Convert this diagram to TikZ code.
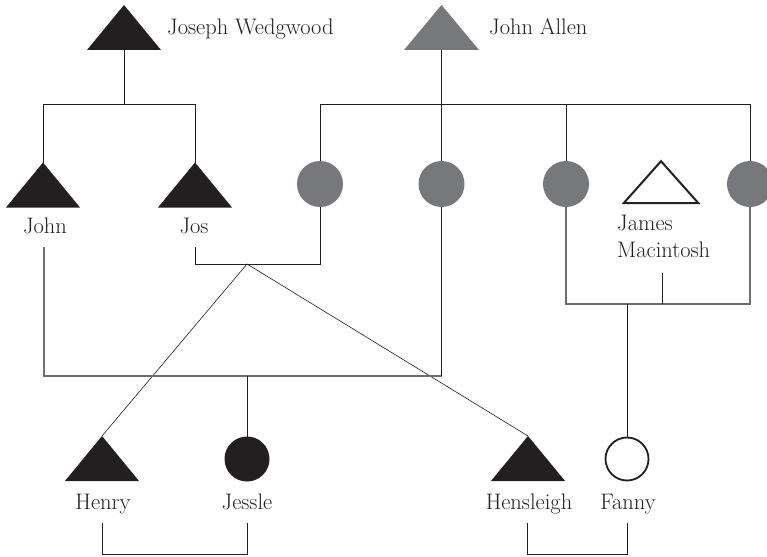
\documentclass[tikz,border=0pt]{standalone}
\begin{document}
\definecolor{ink}{HTML}{231F20}
\definecolor{mid}{HTML}{77787B}
\definecolor{lgray}{HTML}{6D6E71}
\begin{tikzpicture}[x=1pt,y=-1pt,
  tri/.style={minimum width=74pt, minimum height=45pt, inner sep=0pt, outer sep=0pt,
    path picture={\fill[#1] (path picture bounding box.south west) -- (path picture bounding box.south east) -- (path picture bounding box.north) -- cycle;}},
  opentri/.style={minimum width=78pt, minimum height=45pt, inner sep=0pt, outer sep=0pt,
    path picture={\draw[ink, line width=2pt, line join=miter]
      ([shift={(1.8pt,1pt)}]path picture bounding box.south west) --
      ([shift={(-1.8pt,1pt)}]path picture bounding box.south east) --
      ([shift={(0pt,-2.2pt)}]path picture bounding box.north) -- cycle;}},
  dot/.style={circle, minimum size=46pt, inner sep=0pt, outer sep=0pt, fill=#1},
  opendot/.style={circle, minimum size=43pt, inner sep=0pt, outer sep=0pt, draw=ink, line width=1.8pt, fill=white},
  lbl/.style={inner sep=0pt, text=ink, font=\fontsize{22.5}{27}\selectfont},
  ln/.style={draw=ink, line width=0.8pt},
  gln/.style={draw=lgray, line width=1.1pt},
  thin/.style={draw=ink, line width=0.6pt}
]
\clip (0,0) rectangle (767,556);
\fill[white] (0,0) rectangle (767,556);

% generation 1
\node[tri=ink] (jw) at (124,27.5) {};
\node[lbl, anchor=base west] (jwl) at (167,35) {Joseph Wedgwood};
\node[tri=mid, minimum width=75pt] (ja) at (441.5,27.5) {};
\node[lbl, anchor=base west] (jal) at (489,35) {John Allen};

% generation 2
\node[tri=ink] (john) at (43,185) {};
\node[lbl, anchor=base] (johnl) at (45,233) {John};
\node[tri=ink] (jos) at (195,185) {};
\node[lbl, anchor=base] (josl) at (194,233) {Jos};
\node[dot=mid] (c1) at (320,184) {};
\node[dot=mid] (c2) at (441.5,184) {};
\node[dot=mid] (c3) at (566,184) {};
\node[dot=mid] (c4) at (750,184) {};
\node[opentri] (jm) at (661,181.5) {};
\node[lbl, anchor=base west, align=left] (jml) at (617,257) {James\\Macintosh};

% generation 3
\node[tri=ink] (henry) at (102,458.5) {};
\node[lbl, anchor=base] (henryl) at (103,509) {Henry};
\node[dot=ink, minimum size=45pt] (jessle) at (247,459) {};
\node[lbl, anchor=base] (jesslel) at (247,509) {Jessle};
\node[tri=ink] (hens) at (528,458.5) {};
\node[lbl, anchor=base] (hensl) at (529,509) {Hensleigh};
\node[opendot] (fanny) at (627,459) {};
\node[lbl, anchor=base] (fannyl) at (628,509) {Fanny};

% coordinates
\coordinate (jwbar) at (124,104);
\coordinate (johnbar) at (43,104);
\coordinate (josbar) at (195,104);
\coordinate (jabarL) at (320,104);
\coordinate (jabarR) at (750,104);
\coordinate (c3bar) at (566,104);
\coordinate (josfree) at (195,247);
\coordinate (josB) at (195,264);
\coordinate (c1B) at (320,264);
\coordinate (mj) at (247,264);
\coordinate (johnfree) at (44,247);
\coordinate (johnB) at (44,376);
\coordinate (c2B) at (441.5,376);
\coordinate (jesB) at (247,376);
\coordinate (c3B) at (566,304);
\coordinate (c4B) at (750,304);
\coordinate (jmfree) at (662,273);
\coordinate (jmB) at (662,304);
\coordinate (faB) at (627,304);
\coordinate (hb1) at (102,523);
\coordinate (hb2) at (102,554);
\coordinate (jb1) at (247,523);
\coordinate (jb2) at (247,554);
\coordinate (sb1) at (527,523);
\coordinate (sb2) at (527,554);
\coordinate (fb1) at (627,523);
\coordinate (fb2) at (627,554);

% Wedgwood family
\draw[ln] (jw.south) -- (jwbar);
\draw[ln] (john.north) -- (johnbar) -- (josbar) -- (jos.north);

% Allen family
\draw[ln] (ja.south) -- (c2.north);
\draw[ln] (c1.north) -- (jabarL) -- (jabarR) -- (c4.north);
\draw[ln] (c3bar) -- (c3.north);

% Jos + c1 marriage
\draw[ln] (josfree) -- (josB) -- (c1B) -- (c1.south);
\draw[thin] (mj) -- (henry.north);
\draw[thin] (mj) -- (hens.north);

% John + c2 marriage
\draw[gln] (johnfree) -- (johnB) -- (c2B);
\draw[ln] (c2B) -- (c2.south);
\draw[ln] (jesB) -- (jessle.north);

% James Macintosh + c3 / c4
\draw[gln] (c3.south) -- (c3B) -- (c4B) -- (c4.south);
\draw[ln] (jmfree) -- (jmB);
\draw[ln] (faB) -- (fanny.north);

% bottom marriages
\draw[ln] (hb1) -- (hb2) -- (jb2) -- (jb1);
\draw[ln] (sb1) -- (sb2) -- (fb2) -- (fb1);
\end{tikzpicture}
\end{document}
